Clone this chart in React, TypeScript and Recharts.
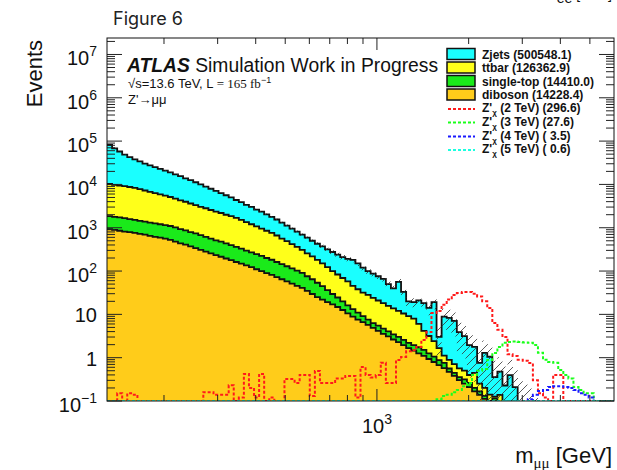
import React from 'react';
import { ComposedChart, Area, Line, XAxis, YAxis } from 'recharts';

// bin edges in GeV (101 edges -> 100 bins)
const binEdges = [
  130.0, 135.1, 140.4, 145.8, 151.5, 157.5, 163.6, 170.0, 176.6, 183.5,
  190.7, 198.2, 205.9, 213.9, 222.3, 231.0, 240.0, 249.4, 259.1, 269.2,
  279.8, 290.7, 302.0, 313.8, 326.1, 338.8, 352.1, 365.8, 380.1, 395.0,
  410.4, 426.4, 443.1, 460.4, 478.4, 497.1, 516.5, 536.7, 557.6, 579.4,
  602.0, 625.6, 650.0, 675.4, 701.8, 729.2, 757.7, 787.3, 818.0, 850.0,
  883.2, 917.7, 953.5, 990.8, 1029.5, 1069.7, 1111.5, 1154.9, 1200.0, 1246.9,
  1295.6, 1346.2, 1398.8, 1453.4, 1510.2, 1569.2, 1630.5, 1694.2, 1760.4, 1829.2,
  1900.6, 1974.8, 2052.0, 2132.1, 2215.4, 2302.0, 2391.9, 2485.3, 2582.4, 2683.3,
  2788.1, 2897.0, 3010.2, 3127.8, 3250.0, 3376.9, 3508.8, 3645.9, 3788.3, 3936.3,
  4090.1, 4249.8, 4415.9, 4588.4, 4767.6, 4953.8, 5147.3, 5348.4, 5557.3, 5774.4,
  6000.0,
];

const zjets = [
  71050, 57836, 48211, 39858, 33948, 29701, 26122, 22956, 20781, 18809,
  17021, 15398, 13926, 12305, 11222, 9823, 8958, 7909, 6980, 6095,
  5373, 4735, 4122, 3628, 3150, 2667, 2376, 2039, 1818, 1558,
  1389, 1191, 1019, 888, 756, 632, 538, 450, 383, 332,
  282, 245, 221, 193, 175, 157, 140, 134, 136, 113,
  88.4, 71.8, 63.1, 55.0, 47.9, 34.3, 26.0, 44.2, 22.6, 10.9,
  11.2, 14.9, 14.0, 10.9, 16.7, 1.36, 7.79, 7.43, 6.37, 3.33,
  2.66, 1.55, 1.33, 0.508, 1.09, 0.909, 0.229, 0.338, 0.178, 0.355,
  0.178, 0.063, 0, 0, 0, 0, 0, 0, 0, 0,
  0, 0, 0, 0, 0, 0, 0, 0, 0, 0,
];

const ttbar = [
  8371, 7994, 7595, 7460, 7125, 6804, 6317, 5864, 5443, 5051,
  4686, 4347, 4033, 3654, 3333, 3110, 2837, 2570, 2344, 2201,
  2008, 1831, 1709, 1558, 1464, 1335, 1183, 1054, 933, 827,
  731, 651, 577, 499, 417, 361, 302, 261, 218, 181,
  154, 128, 106, 86.7, 70.5, 58.7, 49.2, 41.3, 32.5, 27.0,
  22.5, 20.6, 17.7, 15.4, 13.5, 11.7, 10.3, 9.0, 7.9, 6.9,
  6.0, 4.3, 2.66, 1.9, 1.35, 0.79, 0.36, 0.33, 0.26, 0.21,
  0.185, 0.135, 0.247, 0.085, 0.068, 0.041, 0.011, 0.079, 0, 0,
  0, 0, 0, 0, 0, 0, 0, 0, 0, 0,
  0, 0, 0, 0, 0, 0, 0, 0, 0, 0,
];

const singleTop = [
  929, 887, 887, 847, 791, 755, 721, 688, 672, 642,
  613, 586, 571, 544, 496, 464, 422, 402, 367, 335,
  305, 279, 265, 242, 220, 201, 183, 160, 146, 135,
  124, 111, 101, 89.6, 80.4, 71.5, 63.7, 56.3, 50.5, 41.2,
  35.1, 28.6, 22.8, 17.2, 12.5, 9.7, 7.4, 5.7, 4.29, 3.41,
  2.51, 1.84, 1.41, 1.33, 1.13, 0.98, 0.84, 0.73, 0.62, 0.53,
  0.5, 0.48, 0.41, 0.33, 0.26, 0.2, 0.18, 0.094, 0.067, 0.053,
  0.065, 0.054, 0.034, 0.028, 0.02, 0.01, 0.045, 0, 0, 0,
  0, 0, 0, 0, 0, 0, 0, 0, 0, 0,
  0, 0, 0, 0, 0, 0, 0, 0, 0, 0,
];

const diboson = [
  933, 891, 851, 813, 794, 759, 724, 692, 646, 617,
  589, 562, 525, 479, 437, 407, 372, 339, 309, 282,
  257, 234, 214, 195, 178, 162, 148, 135, 123, 110,
  100, 89.1, 81.3, 72.4, 64.6, 57.5, 51.3, 45.7, 40.7, 34.7,
  29.5, 25.1, 21.9, 19.1, 17.0, 14.8, 12.6, 10.5, 8.91, 7.59,
  6.61, 5.75, 4.9, 4.17, 3.55, 3.09, 2.63, 2.29, 1.95, 1.66,
  1.45, 1.26, 1.1, 0.933, 0.794, 0.676, 0.575, 0.468, 0.38, 0.302,
  0.251, 0.209, 0.166, 0.138, 0.112, 0.09, 0.07, 0.06, 0.05, 0.04,
  0.03, 0.025, 0.02, 0.015, 0.01, 0, 0, 0, 0, 0,
  0, 0, 0, 0, 0, 0, 0, 0, 0, 0,
];

const totalStatErr = [
  900, 800, 700, 620, 560, 520, 480, 450, 420, 400,
  380, 360, 340, 320, 300, 280, 260, 245, 230, 215,
  200, 185, 170, 160, 150, 138, 128, 118, 110, 100,
  92, 85, 78, 72, 65, 59, 54, 49, 45, 41,
  38, 35, 32, 30, 28, 26, 24, 23, 23, 21,
  16, 13, 11, 10, 9, 7, 6, 10, 6, 4.5,
  4.5, 5, 4.5, 4.5, 6, 2, 4.5, 4.5, 4, 2.5,
  2.2, 1.6, 1.5, 1.0, 1.2, 1.0, 0.5, 0.55, 0.4, 0.5,
  0.4, 0.25, 0.22, 0.18, 0.12, 0, 0, 0, 0, 0,
  0, 0, 0, 0, 0, 0, 0, 0, 0, 0,
];

const zprime2TeV = [
  0, 0, 0.15, 0, 0.15, 0.14, 0, 0, 0, 0,
  0, 0, 0, 0, 0, 0, 0, 0, 0, 0.16,
  0.16, 0.14, 0.14, 0.14, 0.23, 0, 0.12, 0.42, 0.2, 0.12,
  0.42, 0, 0.12, 0, 0, 0.32, 0.32, 0.26, 0.4, 0.4,
  0.13, 0.49, 0.26, 0.26, 0.26, 0.33, 0.33, 0.38, 0.38, 0.12,
  0.61, 0.4, 0.35, 0.4, 0.76, 0.26, 0.26, 0.89, 1.04, 1.4,
  1.5, 1.77, 2.55, 3.9, 10.7, 12, 16.6, 22, 28, 31,
  33, 33, 30, 26, 20, 14, 6.3, 4.4, 3.0, 1.2,
  1.1, 0.9, 0.85, 0.75, 0.3, 0.15, 0.12, 0, 0.4, 0.4,
  0, 0, 0, 0, 0, 0, 0, 0, 0, 0,
];

const zprime3TeV = [
  0, 0, 0, 0, 0, 0, 0, 0, 0, 0,
  0, 0, 0, 0, 0, 0, 0, 0, 0, 0,
  0, 0, 0, 0, 0, 0, 0, 0, 0, 0,
  0, 0, 0, 0, 0, 0, 0, 0, 0, 0,
  0, 0, 0, 0, 0, 0, 0, 0, 0, 0,
  0, 0, 0, 0, 0, 0, 0, 0, 0, 0,
  0, 0, 0, 0, 0, 0.11, 0.13, 0.14, 0.16, 0.18,
  0.22, 0.26, 0.4, 0.5, 0.55, 0.89, 1.28, 1.77, 2.2, 2.3,
  2.35, 2.3, 2.25, 2.2, 1.96, 1.3, 0.9, 0.8, 0.76, 0.52,
  0.4, 0.33, 0.21, 0.18, 0.15, 0.15, 0, 0, 0, 0,
];

const zprime4TeV = [
  0, 0, 0, 0, 0, 0, 0, 0, 0, 0,
  0, 0, 0, 0, 0, 0, 0, 0, 0, 0,
  0, 0, 0, 0, 0, 0, 0, 0, 0, 0,
  0, 0, 0, 0, 0, 0, 0, 0, 0, 0,
  0, 0, 0, 0, 0, 0, 0, 0, 0, 0,
  0, 0, 0, 0, 0, 0, 0, 0, 0, 0,
  0, 0, 0, 0, 0, 0, 0, 0, 0, 0,
  0, 0, 0, 0, 0, 0, 0, 0, 0, 0,
  0, 0, 0.09, 0.11, 0.14, 0.17, 0.18, 0.21, 0.22, 0.22,
  0.21, 0.2, 0.18, 0.15, 0.14, 0.12, 0.1, 0.09, 0.07, 0.05,
];

const zprime5TeV = [
  0, 0, 0, 0, 0, 0, 0, 0, 0, 0,
  0, 0, 0, 0, 0, 0, 0, 0, 0, 0,
  0, 0, 0, 0, 0, 0, 0, 0, 0, 0,
  0, 0, 0, 0, 0, 0, 0, 0, 0, 0,
  0, 0, 0, 0, 0, 0, 0, 0, 0, 0,
  0, 0, 0, 0, 0, 0, 0, 0, 0, 0,
  0, 0, 0, 0, 0, 0, 0, 0, 0, 0,
  0, 0, 0, 0, 0, 0, 0, 0, 0, 0,
  0, 0, 0, 0, 0, 0, 0, 0, 0.02, 0.03,
  0.03, 0.04, 0.05, 0.05, 0.06, 0.06, 0.06, 0.05, 0.05, 0.04,
];

const bkgLegend = ['Zjets (500548.1)', 'ttbar (126362.9)', 'single-top (14410.0)', 'diboson (14228.4)'];
const sigLegend = [' (2 TeV) (296.6)', ' (3 TeV) (27.6)', ' (4 TeV) ( 3.5)', ' (5 TeV) ( 0.6)'];

const xTicks = [200, 300, 400, 500, 600, 700, 800, 900, 1000, 2000, 3000, 4000, 5000];
const xLabelTicks = [1000];
const yTicks = [
  0.1, 0.2, 0.3, 0.4, 0.5, 0.6, 0.7, 0.8, 0.9,
  1, 2, 3, 4, 5, 6, 7, 8, 9,
  10, 20, 30, 40, 50, 60, 70, 80, 90,
  100, 200, 300, 400, 500, 600, 700, 800, 900,
  1e3, 2e3, 3e3, 4e3, 5e3, 6e3, 7e3, 8e3, 9e3,
  1e4, 2e4, 3e4, 4e4, 5e4, 6e4, 7e4, 8e4, 9e4,
  1e5, 2e5, 3e5, 4e5, 5e5, 6e5, 7e5, 8e5, 9e5,
  1e6, 2e6, 3e6, 4e6, 5e6, 6e6, 7e6, 8e6, 9e6,
  1e7, 2e7,
];
const yLabelTicks = [0.1, 1, 10, 100, 1e3, 1e4, 1e5, 1e6, 1e7];

const colors = {
  zjets: '#1affff',
  ttbar: '#ffff1a',
  singleTop: '#1aea1a',
  diboson: '#ffcc1a',
  z2: '#ff1a1a',
  z3: '#1aff1a',
  z4: '#1a1aff',
  z5: '#1affe0',
};

const Y_MIN = 0.1;
const Y_MAX = 2.4e7;
const X_MIN = 130;
const X_MAX = 6000;
const FLOOR = 1e-4;

const W = 617;
const H = 470;
const PLOT = { left: 107, right: 614, top: 38, bottom: 401 };
const FONT = "'Liberation Sans', Arial, Helvetica, sans-serif";
const SERIF = "'Liberation Serif', 'Times New Roman', serif";

const nBins = zjets.length;
const table = binEdges.map((m, i) => {
  const b = Math.min(i, nBins - 1);
  const db = diboson[b];
  const st = db + singleTop[b];
  const tt = st + ttbar[b];
  const tot = tt + zjets[b];
  const err = totalStatErr[b];
  return {
    m,
    db: Math.max(db, FLOOR),
    st: Math.max(st, FLOOR),
    tt: Math.max(tt, FLOOR),
    tot: Math.max(tot, FLOOR),
    band: [Math.max(tot - err, FLOOR), Math.max(tot + err, FLOOR)],
    s2: Math.max(zprime2TeV[b], Y_MIN),
    s3: Math.max(zprime3TeV[b], Y_MIN),
    s4: Math.max(zprime4TeV[b], Y_MIN),
    s5: Math.max(zprime5TeV[b], Y_MIN),
  };
});

function expLabel(v: number) {
  const e = Math.round(Math.log10(v));
  if (e === 0) return { base: '1', sup: '' };
  if (e === 1) return { base: '10', sup: '' };
  return { base: '10', sup: e < 0 ? '\u2212' + String(-e) : String(e) };
}

function XTick(props: any) {
  const { x, payload } = props;
  const v = payload.value;
  const major = xLabelTicks.includes(v);
  const len = major ? 12 : 6;
  const lab = expLabel(v);
  return (
    <g>
      <line x1={x} x2={x} y1={PLOT.bottom} y2={PLOT.bottom - len} stroke="#222" strokeWidth={1} />
      <line x1={x} x2={x} y1={PLOT.top} y2={PLOT.top + len} stroke="#222" strokeWidth={1} />
      {major && (
        <text x={x} y={433} textAnchor="middle" fontFamily={FONT} fontSize={20} fill="#111">
          <tspan>{lab.base}</tspan>
          {lab.sup && <tspan dy={-9} fontSize={14}>{lab.sup}</tspan>}
        </text>
      )}
    </g>
  );
}

function YTick(props: any) {
  const { y, payload } = props;
  const v = payload.value;
  const major = yLabelTicks.includes(v);
  const len = major ? 15 : 8;
  const lab = expLabel(v);
  return (
    <g>
      <line x1={PLOT.left} x2={PLOT.left + len} y1={y} y2={y} stroke="#222" strokeWidth={1} />
      <line x1={PLOT.right} x2={PLOT.right - len} y1={y} y2={y} stroke="#222" strokeWidth={1} />
      {major && (
        <text x={97} y={y + (lab.sup ? 11 : 8)} textAnchor="end" fontFamily={FONT} fontSize={20} fill="#111">
          <tspan>{lab.base}</tspan>
          {lab.sup && <tspan dy={-9} fontSize={14}>{lab.sup}</tspan>}
        </text>
      )}
    </g>
  );
}

const legendRows = [54, 67.5, 81, 94.5, 109, 122.5, 136.5, 150];
const bkgColors = [colors.zjets, colors.ttbar, colors.singleTop, colors.diboson];
const sigColors = [colors.z2, colors.z3, colors.z4, colors.z5];

export default function App() {
  return (
    <div style={{ position: 'fixed', left: 0, top: 0, width: W, height: H, background: '#fff', overflow: 'hidden' }}>
      <svg width={0} height={0} style={{ position: 'absolute' }}>
        <defs>
          <pattern id="hatch" patternUnits="userSpaceOnUse" width={8} height={8}>
            <path d="M-1,9 L9,-1" stroke="#333" strokeWidth={0.8} />
          </pattern>
        </defs>
      </svg>
      <div style={{ position: 'absolute', left: 0, top: 0 }}>
        <ComposedChart width={W} height={H} data={table} margin={{ top: PLOT.top, right: W - PLOT.right, bottom: 0, left: 0 }}>
          <Area type="stepAfter" dataKey="tot" baseValue={Y_MIN} fill={colors.zjets} fillOpacity={1} stroke="#111" strokeWidth={1.8} isAnimationActive={false} dot={false} activeDot={false} />
          <Area type="stepAfter" dataKey="tt" baseValue={Y_MIN} fill={colors.ttbar} fillOpacity={1} stroke="#111" strokeWidth={1.8} isAnimationActive={false} dot={false} activeDot={false} />
          <Area type="stepAfter" dataKey="st" baseValue={Y_MIN} fill={colors.singleTop} fillOpacity={1} stroke="#111" strokeWidth={1.8} isAnimationActive={false} dot={false} activeDot={false} />
          <Area type="stepAfter" dataKey="db" baseValue={Y_MIN} fill={colors.diboson} fillOpacity={1} stroke="#111" strokeWidth={1.8} isAnimationActive={false} dot={false} activeDot={false} />
          <Area type="stepAfter" dataKey="band" fill="url(#hatch)" fillOpacity={1} stroke="none" isAnimationActive={false} dot={false} activeDot={false} />
          <Line type="stepAfter" dataKey="s2" stroke={colors.z2} strokeWidth={2} strokeDasharray="3 2" dot={false} activeDot={false} isAnimationActive={false} />
          <Line type="stepAfter" dataKey="s3" stroke={colors.z3} strokeWidth={2} strokeDasharray="3 2" dot={false} activeDot={false} isAnimationActive={false} />
          <Line type="stepAfter" dataKey="s4" stroke={colors.z4} strokeWidth={2} strokeDasharray="3 2" dot={false} activeDot={false} isAnimationActive={false} />
          <Line type="stepAfter" dataKey="s5" stroke={colors.z5} strokeWidth={2} strokeDasharray="3 2" dot={false} activeDot={false} isAnimationActive={false} />
          <XAxis dataKey="m" type="number" scale="log" domain={[X_MIN, X_MAX]} allowDataOverflow ticks={xTicks} interval={0} tick={XTick} tickLine={false} axisLine={false} height={H - PLOT.bottom} />
          <YAxis type="number" scale="log" domain={[Y_MIN, Y_MAX]} allowDataOverflow ticks={yTicks} interval={0} tick={YTick} tickLine={false} axisLine={false} width={PLOT.left} />
        </ComposedChart>
      </div>
      <svg width={W} height={H} style={{ position: 'absolute', left: 0, top: 0, pointerEvents: 'none' }}>
        <rect x={PLOT.left} y={PLOT.top} width={PLOT.right - PLOT.left} height={PLOT.bottom - PLOT.top} fill="none" stroke="#111" strokeWidth={1} />
        <text x={612} y={-1} textAnchor="end" fontFamily={FONT} fontSize={14} fill="#111">
          <tspan>m</tspan>
          <tspan dy={4} fontSize={14}>ee</tspan>
          <tspan dy={-4}> [GeV]</tspan>
        </text>
        <text x={113} y={25} fontFamily="Inter, 'Noto Sans', sans-serif" fontSize={18} fill="#222">Figure 6</text>
        <text x={42} y={40} transform="rotate(-90 42 40)" textAnchor="end" fontFamily={FONT} fontSize={22} fill="#111">Events</text>
        <text x={612} y={463} textAnchor="end" fontFamily={FONT} fontSize={22} fill="#111">
          <tspan>m</tspan>
          <tspan dy={5} fontSize={15} fontFamily={SERIF}>{'\u03bc\u03bc'}</tspan>
          <tspan dy={-5}> [GeV]</tspan>
        </text>
        <text x={127} y={72} fontFamily={FONT} fontSize={19.3} fill="#111">
          <tspan fontWeight="bold" fontStyle="italic">ATLAS</tspan>
          <tspan> Simulation Work in Progress</tspan>
        </text>
        <text x={128} y={88} fontFamily={FONT} fontSize={13} fill="#111">
          <tspan>{'\u221as=13.6 TeV, L '}</tspan>
          <tspan fontFamily={SERIF}>= 165 fb</tspan>
          <tspan dy={-5} fontSize={9}>{'\u22121'}</tspan>
        </text>
        <text x={128} y={104} fontFamily={FONT} fontSize={13} fill="#111">{"Z'\u2192\u03bc\u03bc"}</text>
        {bkgLegend.map((t, i) => (
          <g key={t}>
            <rect x={447} y={legendRows[i] - 5.5} width={28} height={11} fill={bkgColors[i]} stroke="#111" strokeWidth={1.5} />
            <text x={482} y={legendRows[i] + 4.5} fontFamily={FONT} fontWeight="bold" fontSize={12} fill="#111">{t}</text>
          </g>
        ))}
        {sigLegend.map((t, i) => (
          <g key={t}>
            <line x1={448} x2={475} y1={legendRows[4 + i]} y2={legendRows[4 + i]} stroke={sigColors[i]} strokeWidth={2} strokeDasharray="3 2" />
            <text x={482} y={legendRows[4 + i] + 3} fontFamily={FONT} fontWeight="bold" fontSize={12} fill="#111">
              <tspan>{"Z'"}</tspan>
              <tspan dy={3} fontSize={8}>{'\u03c7'}</tspan>
              <tspan dy={-3}>{t}</tspan>
            </text>
          </g>
        ))}
      </svg>
    </div>
  );
}
